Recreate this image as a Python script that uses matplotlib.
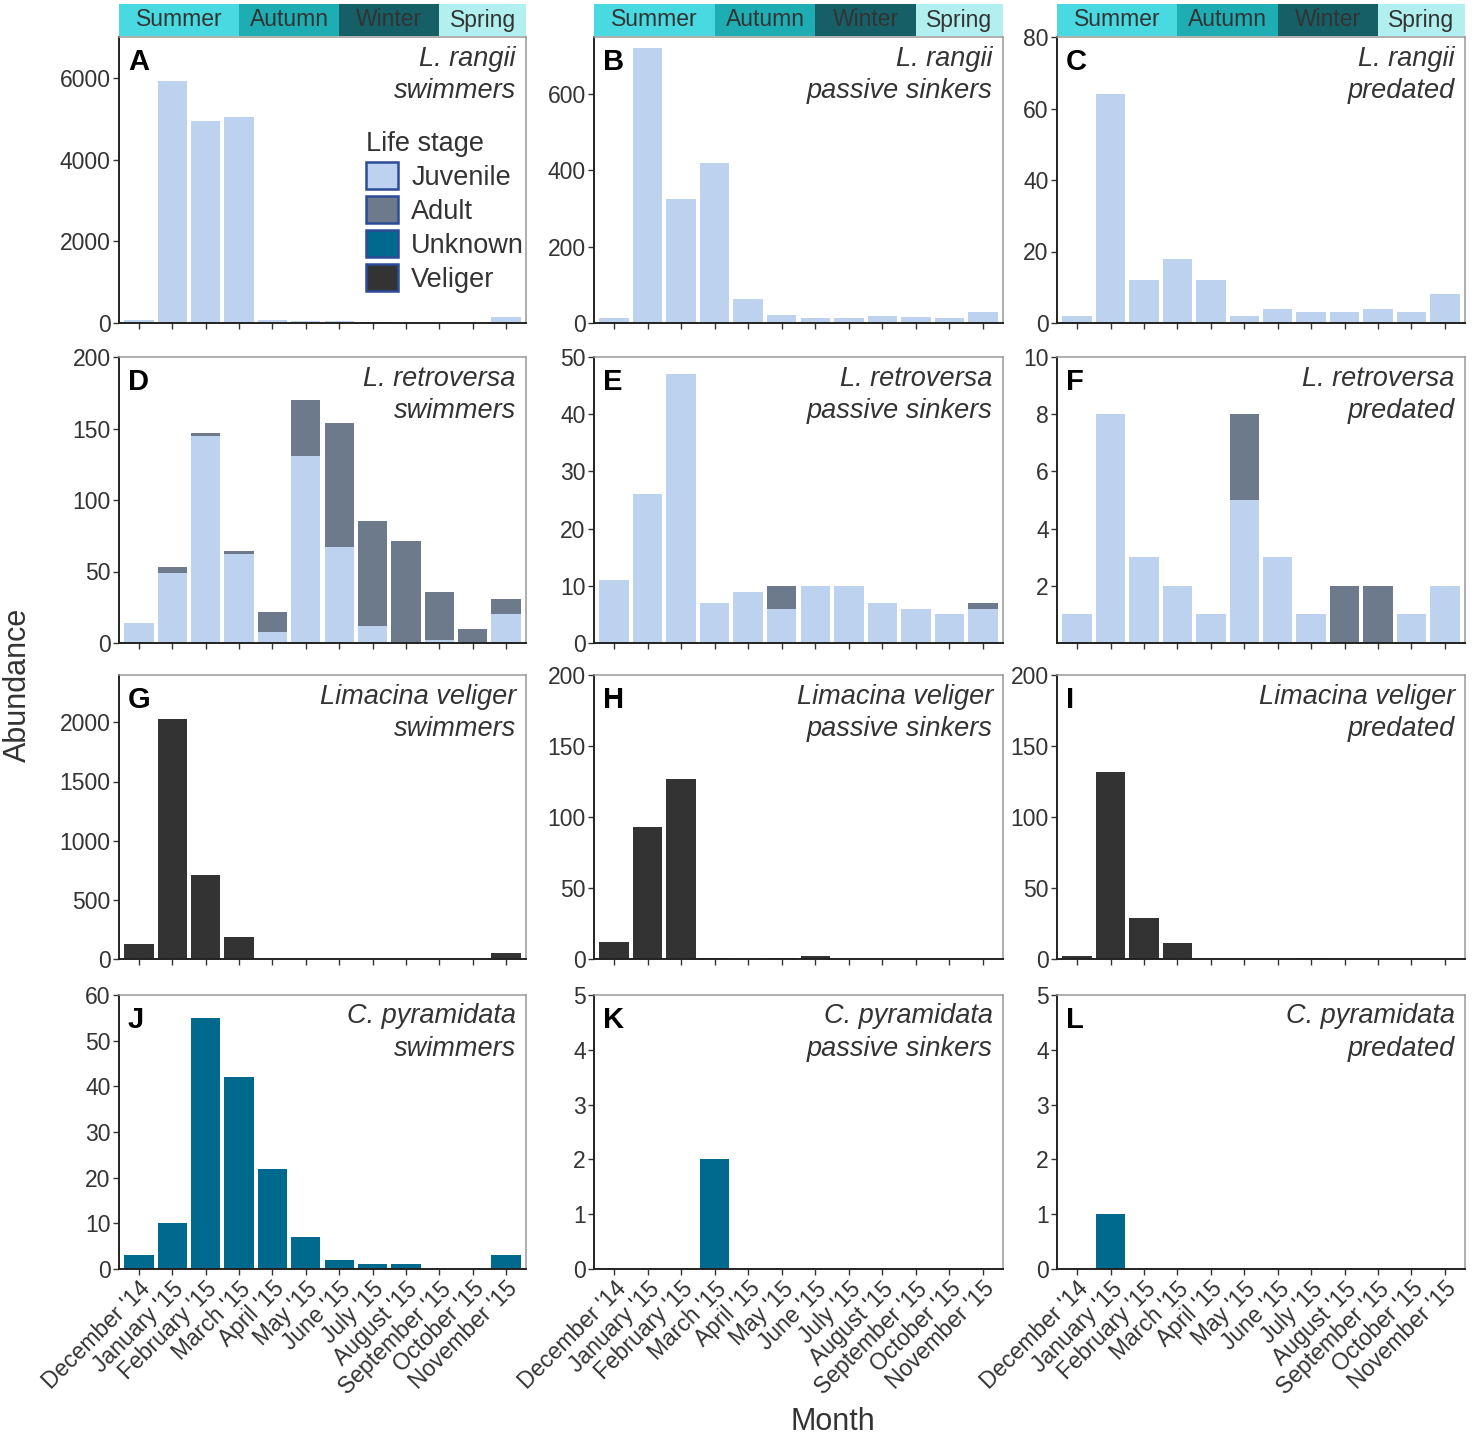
import matplotlib
matplotlib.use("Agg")
import matplotlib.pyplot as plt
from matplotlib.patches import Patch
import numpy as np

plt.rcParams['font.family'] = ['Liberation Sans', 'DejaVu Sans']

# months of sampling
months = ["December '14", "January '15", "February '15", "March '15", "April '15",
          "May '15", "June '15", "July '15", "August '15", "September '15",
          "October '15", "November '15"]

# L. rangii (juveniles only)
rangii_swim_juv = [80, 5930, 4940, 5040, 80, 50, 50, 20, 10, 10, 10, 140]
rangii_sink_juv = [12, 720, 325, 420, 62, 20, 12, 14, 18, 16, 14, 28]
rangii_pred_juv = [2, 64, 12, 18, 12, 2, 4, 3, 3, 4, 3, 8]

# L. retroversa (juvenile + adult)
retro_swim_juv = [14, 49, 145, 62, 8, 131, 67, 12, 1, 2, 0, 20]
retro_swim_adu = [0, 4, 2, 2, 14, 39, 87, 73, 70, 34, 10, 11]
retro_sink_juv = [11, 26, 47, 7, 9, 6, 10, 10, 7, 6, 5, 6]
retro_sink_adu = [0, 0, 0, 0, 0, 4, 0, 0, 0, 0, 0, 1]
retro_pred_juv = [1, 8, 3, 2, 1, 5, 3, 1, 0, 0, 1, 2]
retro_pred_adu = [0, 0, 0, 0, 0, 3, 0, 0, 2, 2, 0, 0]

# Limacina veligers
veliger_swim = [130, 2030, 712, 186, 0, 0, 0, 0, 0, 0, 0, 48]
veliger_sink = [12, 93, 127, 1, 0, 1, 2, 0, 0, 0, 0, 0]
veliger_pred = [2, 132, 29, 11, 0, 0, 0, 1, 0, 0, 0, 0]

# C. pyramidata (unknown stage)
pyram_swim = [3, 10, 55, 42, 22, 7, 2, 1, 1, 0, 0, 3]
pyram_sink = [0, 0, 0, 2, 0, 0, 0, 0, 0, 0, 0, 0]
pyram_pred = [0, 1, 0, 0, 0, 0, 0, 0, 0, 0, 0, 0]

stages = ["Juvenile", "Adult", "Unknown", "Veliger"]
stage_colors = {"Juvenile": "#bdd2ef", "Adult": "#6c7a8b",
                "Unknown": "#00698e", "Veliger": "#333333"}

seasons = ["Summer", "Autumn", "Winter", "Spring"]
season_bounds = [-0.6, 3.0, 6.0, 9.0, 11.6]
season_colors = ["#48d9e1", "#1fadb4", "#175f66", "#b2f0f0"]

panels = [
    ("A", "L. rangii\nswimmers", [("Juvenile", rangii_swim_juv)], 7000, [0, 2000, 4000, 6000]),
    ("B", "L. rangii\npassive sinkers", [("Juvenile", rangii_sink_juv)], 750, [0, 200, 400, 600]),
    ("C", "L. rangii\npredated", [("Juvenile", rangii_pred_juv)], 80, [0, 20, 40, 60, 80]),
    ("D", "L. retroversa\nswimmers", [("Juvenile", retro_swim_juv), ("Adult", retro_swim_adu)], 200, [0, 50, 100, 150, 200]),
    ("E", "L. retroversa\npassive sinkers", [("Juvenile", retro_sink_juv), ("Adult", retro_sink_adu)], 50, [0, 10, 20, 30, 40, 50]),
    ("F", "L. retroversa\npredated", [("Juvenile", retro_pred_juv), ("Adult", retro_pred_adu)], 10, [2, 4, 6, 8, 10]),
    ("G", "Limacina veliger\nswimmers", [("Veliger", veliger_swim)], 2400, [0, 500, 1000, 1500, 2000]),
    ("H", "Limacina veliger\npassive sinkers", [("Veliger", veliger_sink)], 200, [0, 50, 100, 150, 200]),
    ("I", "Limacina veliger\npredated", [("Veliger", veliger_pred)], 200, [0, 50, 100, 150, 200]),
    ("J", "C. pyramidata\nswimmers", [("Unknown", pyram_swim)], 60, [0, 10, 20, 30, 40, 50, 60]),
    ("K", "C. pyramidata\npassive sinkers", [("Unknown", pyram_sink)], 5, [0, 1, 2, 3, 4, 5]),
    ("L", "C. pyramidata\npredated", [("Unknown", pyram_pred)], 5, [0, 1, 2, 3, 4, 5]),
]

W, H = 1476, 1444
fig = plt.figure(figsize=(W / 100, H / 100), dpi=100)


def px_axes(left, top, right, bottom):
    return fig.add_axes([left / W, 1 - bottom / H, (right - left) / W, (bottom - top) / H])


col_px = [(119, 526), (594, 1003), (1057, 1465)]
row_px = [(37, 323), (357, 643), (675, 959), (995, 1269)]
x = np.arange(len(months))
txt = "#333333"

for i, (letter, label, stacks, ymax, yticks) in enumerate(panels):
    r, c = divmod(i, 3)
    ax = px_axes(col_px[c][0], row_px[r][0], col_px[c][1], row_px[r][1])
    bottom = np.zeros(len(months))
    for stage, vals in stacks:
        vals = np.array(vals, dtype=float)
        ax.bar(x, vals, 0.88, bottom=bottom, color=stage_colors[stage], linewidth=0)
        bottom += vals
    ax.set_xlim(-0.6, 11.6)
    ax.set_ylim(0, ymax)
    ax.set_yticks(yticks)
    ax.set_xticks(x)
    for s in ["left", "bottom"]:
        ax.spines[s].set_color("#222222")
        ax.spines[s].set_linewidth(1.4)
    for s in ["top", "right"]:
        ax.spines[s].set_color("#999999")
        ax.spines[s].set_linewidth(1.1)
    ax.tick_params(direction="out", length=4, width=1, color="#333333",
                   labelsize=16.5, labelcolor=txt, pad=2)
    if r == 3:
        ax.set_xticklabels(months, rotation=45, ha="right", va="top",
                           rotation_mode="anchor")
    else:
        ax.set_xticklabels([])
    ax.text(0.022, 0.96, letter, transform=ax.transAxes, fontsize=21,
            fontweight="bold", color="black", va="top", ha="left")
    ax.text(0.975, 0.97, label, transform=ax.transAxes, fontsize=19.5,
            style="italic", color=txt, va="top", ha="right", linespacing=1.32)

    if letter == "A":
        handles = [Patch(facecolor=stage_colors[s], edgecolor="#2c4b98", linewidth=1.8)
                   for s in stages]
        leg = ax.legend(handles, stages, title="Life stage", loc="upper left",
                        bbox_to_anchor=(0.608, 0.672), frameon=False, fontsize=19.5,
                        title_fontsize=19.5, handlelength=1.15, handleheight=1.15,
                        handletextpad=0.5, labelspacing=0.2, borderpad=0,
                        borderaxespad=0, alignment="left")
        for t in leg.get_texts():
            t.set_color(txt)
        leg.get_title().set_color(txt)

    # season band above top row
    if r == 0:
        sax = px_axes(col_px[c][0], 4, col_px[c][1], 36)
        sax.set_xlim(-0.6, 11.6)
        sax.set_ylim(0, 1)
        for k, name in enumerate(seasons):
            sax.axvspan(season_bounds[k], season_bounds[k + 1], color=season_colors[k], lw=0)
            sax.text((season_bounds[k] + season_bounds[k + 1]) / 2, 0.5, name,
                     ha="center", va="center", fontsize=16.5, color=txt)
        sax.axis("off")

fig.text(18 / W, 1 - 685 / H, "Abundance", rotation=90, ha="center", va="center",
         fontsize=22, color=txt)
fig.text(833 / W, 1 - 1422 / H, "Month", ha="center", va="center",
         fontsize=22, color=txt)

fig.savefig("out.png", dpi=100, facecolor="white")
